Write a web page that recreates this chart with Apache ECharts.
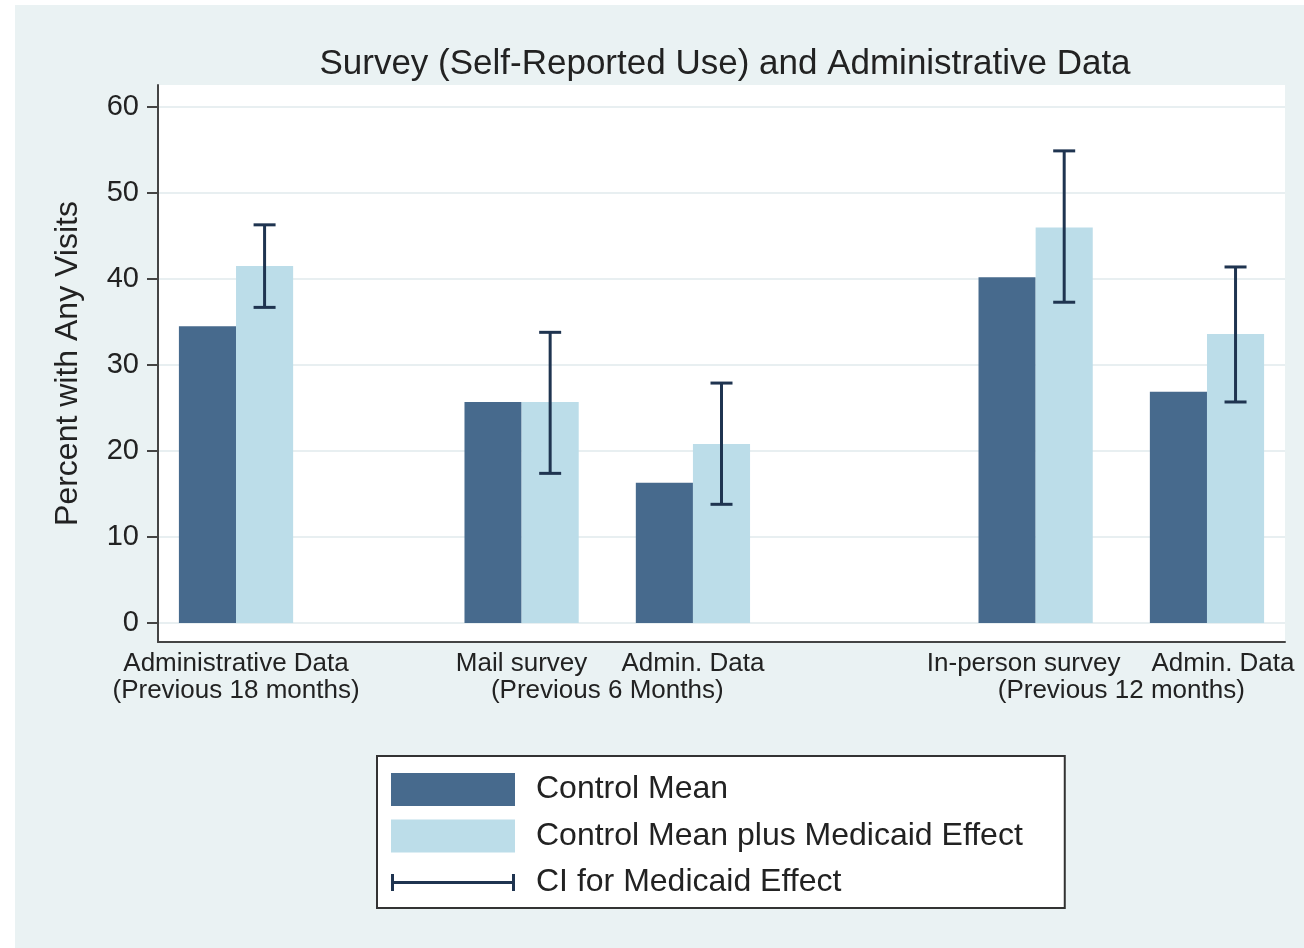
<!DOCTYPE html>
<html lang="en">
<head>
    <meta charset="UTF-8">
    <title>Survey and Administrative Data</title>
    <style>
        html, body {
            margin: 0;
            padding: 0;
            background-color: #ffffff;
        }
        #chart {
            position: absolute;
            left: 15px;
            top: 5px;
            width: 1289px;
            height: 943px;
        }
    </style>
</head>
<body>
<div id="chart"></div>
<script src="https://cdn.jsdelivr.net/npm/echarts@6/dist/echarts.min.js"></script>
<script>
    // bar groups (x slot in units of one bar width)
    var groups = ['Administrative Data 18m', 'Mail survey', 'Admin. Data 6m', 'In-person survey', 'Admin. Data 12m'];
    var slots = [2, 7, 10, 16, 19];
    var controlMean = [34.5, 25.7, 16.3, 40.2, 26.9];
    var plusEffect = [41.5, 25.7, 20.8, 46.0, 33.6];
    var ciLow = [36.7, 17.4, 13.8, 37.3, 25.7];
    var ciHigh = [46.3, 33.8, 27.9, 54.9, 41.4];

    // tick labels: first line and second line of the x labels
    var yTicks = [0, 10, 20, 30, 40, 50, 60];
    var xTopPos = [2, 7, 10, 15.79, 19.28];
    var xTopText = ['Administrative Data', 'Mail survey', 'Admin. Data', 'In-person survey', 'Admin. Data'];
    var xSubPos = [2, 8.5, 17.5];
    var xSubText = ['(Previous 18 months)', '(Previous 6 Months)', '(Previous 12 months)'];

    var darkColor = '#476A8D';
    var lightColor = '#BCDDE9';
    var ciColor = '#1F3450';
    var font = 'Liberation Sans, Arial, Helvetica, sans-serif';

    var chart = echarts.init(document.getElementById('chart'));

    var darkData = [], lightData = [], ciData = [];
    slots.forEach(function (p, i) {
        darkData.push([p, controlMean[i]]);
        lightData.push([p, plusEffect[i]]);
        ciData.push([p + 0.5, ciLow[i], ciHigh[i]]);
    });

    function barRender(side, color) {
        return function (params, api) {
            var x = api.value(0);
            var v = api.value(1);
            var a = api.coord([side < 0 ? x - 1 : x, v]);
            var b = api.coord([side < 0 ? x : x + 1, 0]);
            return {
                type: 'rect',
                shape: {x: a[0], y: a[1], width: b[0] - a[0], height: b[1] - a[1]},
                style: {fill: color}
            };
        };
    }

    function ciRender(params, api) {
        var x = api.value(0);
        var lo = api.coord([x, api.value(1)]);
        var hi = api.coord([x, api.value(2)]);
        var cap = 11;
        var st = {stroke: ciColor, lineWidth: 3};
        return {
            type: 'group',
            children: [
                {type: 'line', shape: {x1: hi[0], y1: hi[1], x2: lo[0], y2: lo[1]}, style: st},
                {type: 'line', shape: {x1: hi[0] - cap, y1: hi[1], x2: hi[0] + cap, y2: hi[1]}, style: st},
                {type: 'line', shape: {x1: lo[0] - cap, y1: lo[1], x2: lo[0] + cap, y2: lo[1]}, style: st}
            ]
        };
    }

    function lookup(posArr, textArr) {
        return function (val) {
            for (var i = 0; i < posArr.length; i++) {
                if (Math.abs(posArr[i] - val) < 1e-6) return textArr[i];
            }
            return '';
        };
    }

    var xLabelBase = {
        hideOverlap: false,
        showMinLabel: true,
        showMaxLabel: true,
        fontSize: 26,
        color: '#222',
        fontFamily: font
    };

    var option = {
        backgroundColor: '#EAF2F3',
        animation: false,
        textStyle: {fontFamily: font},
        title: {
            text: 'Survey (Self-Reported Use) and Administrative Data',
            left: 705,
            top: 37,
            textAlign: 'center',
            textStyle: {fontSize: 35, fontWeight: 'normal', color: '#222', fontFamily: font}
        },
        legend: {
            orient: 'vertical',
            left: 362,
            top: 751,
            itemWidth: 124,
            itemHeight: 33,
            itemGap: 13.5,
            padding: [17, 42, 9, 14],
            backgroundColor: '#ffffff',
            borderColor: '#333',
            borderWidth: 2,
            selectedMode: false,
            textStyle: {fontSize: 32, color: '#222', fontFamily: font, padding: [0, 0, 0, 16]},
            data: [
                {name: 'Control Mean', icon: 'rect'},
                {name: 'Control Mean plus Medicaid Effect', icon: 'rect'},
                {name: 'CI for Medicaid Effect',
                    icon: 'path://M0,-8 M0,0 h3 v17 h-3 z M0,7 h124 v3 h-124 z M121,0 h3 v17 h-3 z M0,25'}
            ]
        },
        grid: {
            left: 143,
            top: 80,
            right: 19,
            bottom: 306,
            show: true,
            backgroundColor: '#ffffff',
            borderWidth: 0,
            outerBoundsMode: 'none'
        },
        xAxis: [
            {
                type: 'value',
                position: 'bottom',
                min: 0.634,
                max: 20.366,
                axisLine: {show: true, onZero: false, lineStyle: {color: '#444', width: 2}},
                axisTick: {show: false},
                splitLine: {show: false},
                axisLabel: Object.assign({}, xLabelBase, {
                    customValues: xTopPos,
                    margin: 9,
                    formatter: lookup(xTopPos, xTopText)
                })
            },
            {
                type: 'value',
                position: 'bottom',
                offset: 0,
                min: 0.634,
                max: 20.366,
                axisLine: {show: false, onZero: false},
                axisTick: {show: false},
                splitLine: {show: false},
                axisLabel: Object.assign({}, xLabelBase, {
                    customValues: xSubPos,
                    margin: 36,
                    formatter: lookup(xSubPos, xSubText)
                })
            }
        ],
        yAxis: {
            type: 'value',
            min: -2.21,
            max: 62.56,
            name: 'Percent with Any Visits',
            nameLocation: 'middle',
            nameGap: 74,
            nameTextStyle: {fontSize: 32, color: '#222', fontFamily: font},
            axisLine: {show: true, lineStyle: {color: '#444', width: 2}},
            axisTick: {show: true, customValues: yTicks, length: 11, lineStyle: {color: '#444', width: 2}},
            axisLabel: {customValues: yTicks, margin: 19, fontSize: 29, color: '#222', fontFamily: font},
            splitLine: {show: true, lineStyle: {color: '#E8EFF1', width: 2}}
        },
        series: [
            {
                name: 'Control Mean',
                type: 'custom',
                itemStyle: {color: darkColor},
                renderItem: barRender(-1, darkColor),
                encode: {x: 0, y: 1},
                data: darkData
            },
            {
                name: 'Control Mean plus Medicaid Effect',
                type: 'custom',
                itemStyle: {color: lightColor},
                renderItem: barRender(1, lightColor),
                encode: {x: 0, y: 1},
                data: lightData
            },
            {
                name: 'CI for Medicaid Effect',
                type: 'custom',
                itemStyle: {color: ciColor},
                renderItem: ciRender,
                encode: {x: 0, y: [1, 2]},
                data: ciData
            }
        ]
    };
    chart.setOption(option);
</script>
</body>
</html>
